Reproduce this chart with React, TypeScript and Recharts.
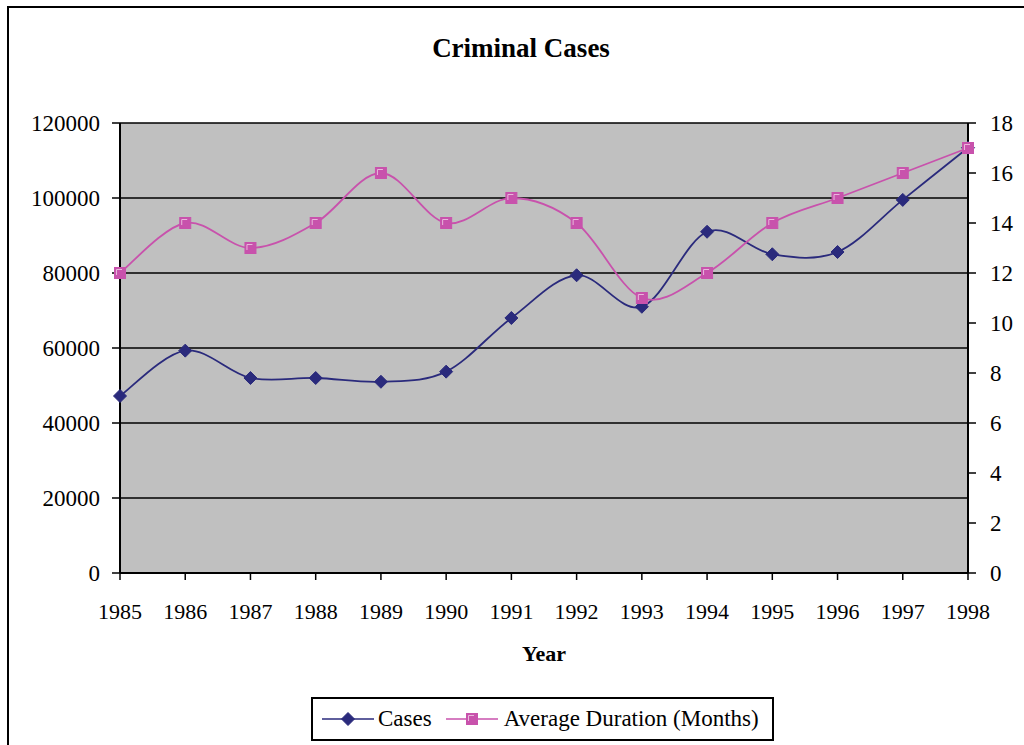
import React from "react";
import {
  LineChart,
  Line,
  XAxis,
  YAxis,
  CartesianGrid,
} from "recharts";

const years = [1985, 1986, 1987, 1988, 1989, 1990, 1991, 1992, 1993, 1994, 1995, 1996, 1997, 1998];
const cases = [47200, 59300, 52000, 52000, 51000, 53700, 68000, 79400, 71000, 91000, 85000, 85600, 99500, 113400];
const duration = [12, 14, 13, 14, 16, 14, 15, 14, 11, 12, 14, 15, 16, 17];

const leftTicks = [0, 20000, 40000, 60000, 80000, 100000, 120000];
const rightTicks = [0, 2, 4, 6, 8, 10, 12, 14, 16, 18];

const data = years.map((year, i) => ({
  year,
  cases: cases[i],
  duration: duration[i],
}));

const NAVY = "#2A2A7C";
const PINK = "#C852AC";
const FONT = '"Liberation Serif", "Times New Roman", serif';

// Excel-like smoothing (uniform Catmull-Rom as cubic Beziers)
const excelSmooth = (context: any) => {
  let pts: [number, number][] = [];
  return {
    areaStart() {},
    areaEnd() {},
    lineStart() {
      pts = [];
    },
    point(x: number, y: number) {
      pts.push([+x, +y]);
    },
    lineEnd() {
      if (!pts.length) return;
      context.moveTo(pts[0][0], pts[0][1]);
      for (let i = 0; i < pts.length - 1; i++) {
        const p0 = pts[i - 1] || pts[i];
        const p1 = pts[i];
        const p2 = pts[i + 1];
        const p3 = pts[i + 2] || p2;
        context.bezierCurveTo(
          p1[0] + (p2[0] - p0[0]) / 6,
          p1[1] + (p2[1] - p0[1]) / 6,
          p2[0] - (p3[0] - p1[0]) / 6,
          p2[1] - (p3[1] - p1[1]) / 6,
          p2[0],
          p2[1]
        );
      }
    },
  };
};

const Diamond = (props: any) => {
  const { cx, cy } = props;
  if (cx == null || cy == null) return null;
  const r = 6.5;
  return (
    <path
      d={`M${cx},${cy - r} L${cx + r},${cy} L${cx},${cy + r} L${cx - r},${cy} Z`}
      fill={NAVY}
      stroke={NAVY}
    />
  );
};

const Square = (props: any) => {
  const { cx, cy } = props;
  if (cx == null || cy == null) return null;
  const s = 5.5;
  return (
    <g>
      <rect x={cx - s} y={cy - s} width={s * 2} height={s * 2} fill={PINK} stroke={PINK} />
      <path
        d={`M${cx - s + 2},${cy + 2} L${cx - s + 2},${cy - s + 2} L${cx + 2},${cy - s + 2}`}
        fill="none"
        stroke="#E8B8DC"
        strokeWidth={1}
      />
    </g>
  );
};

const LegendBox = () => (
  <div
    style={{
      position: "absolute",
      left: 311,
      top: 697,
      width: 463,
      height: 44,
      border: "2px solid #000",
      background: "#fff",
      boxSizing: "border-box",
      display: "flex",
      alignItems: "center",
      fontFamily: FONT,
      fontSize: 23,
      color: "#000",
    }}
  >
    <svg width={56} height={20} style={{ marginLeft: 7 }}>
      <line x1={2} y1={10} x2={54} y2={10} stroke={NAVY} strokeWidth={1.5} />
      <Diamond cx={28} cy={10} />
    </svg>
    <span style={{ marginLeft: 2 }}>Cases</span>
    <svg width={56} height={20} style={{ marginLeft: 12 }}>
      <line x1={2} y1={10} x2={54} y2={10} stroke={PINK} strokeWidth={1.5} />
      <Square cx={28} cy={10} />
    </svg>
    <span style={{ marginLeft: 4, whiteSpace: "nowrap" }}>Average Duration (Months)</span>
  </div>
);

export default function App() {
  return (
    <div
      style={{
        position: "absolute",
        left: 0,
        top: 0,
        width: 1024,
        height: 745,
        background: "#fff",
        overflow: "hidden",
      }}
    >
      <div
        style={{
          position: "absolute",
          left: 7,
          top: 6,
          width: 1100,
          height: 800,
          borderLeft: "2px solid #000",
          borderTop: "2px solid #000",
        }}
      />
      <div
        style={{
          position: "absolute",
          left: 0,
          top: 32,
          width: 1042,
          textAlign: "center",
          fontFamily: FONT,
          fontWeight: "bold",
          fontSize: 27,
          lineHeight: "32px",
          color: "#000",
        }}
      >
        Criminal Cases
      </div>
      <div style={{ position: "absolute", left: 0, top: 0 }}>
        <LineChart
          width={1024}
          height={745}
          data={data}
          margin={{ top: 123, right: 6, bottom: 72, left: 40 }}
        >
          <CartesianGrid
            yAxisId="left"
            vertical={false}
            stroke="#000"
            strokeWidth={1.5}
            fill="#C0C0C0"
            fillOpacity={1}
          />
          <XAxis
            dataKey="year"
            type="number"
            domain={[1985, 1998]}
            ticks={years}
            interval={0}
            height={100}
            axisLine={{ stroke: "#000", strokeWidth: 2 }}
            tickLine={{ stroke: "#000", strokeWidth: 1.5 }}
            tickSize={7}
            tickMargin={23}
            tick={{ fill: "#000", fontSize: 22, fontFamily: FONT }}
            label={{
              value: "Year",
              position: "insideTop",
              offset: 72,
              fill: "#000",
              fontSize: 22,
              fontWeight: "bold",
              fontFamily: FONT,
            }}
          />
          <YAxis
            yAxisId="left"
            width={80}
            domain={[0, 120000]}
            ticks={leftTicks}
            interval={0}
            axisLine={{ stroke: "#000", strokeWidth: 2 }}
            tickLine={{ stroke: "#000", strokeWidth: 1.5 }}
            tickSize={8}
            tickMargin={12}
            tick={{ fill: "#000", fontSize: 23, fontFamily: FONT }}
          />
          <YAxis
            yAxisId="right"
            orientation="right"
            width={50}
            domain={[0, 18]}
            ticks={rightTicks}
            interval={0}
            axisLine={{ stroke: "#000", strokeWidth: 2 }}
            tickLine={{ stroke: "#000", strokeWidth: 1.5 }}
            tickSize={8}
            tickMargin={14}
            tick={{ fill: "#000", fontSize: 23, fontFamily: FONT }}
          />
          <Line
            yAxisId="left"
            type={excelSmooth as any}
            dataKey="cases"
            name="Cases"
            stroke={NAVY}
            strokeWidth={1.8}
            dot={<Diamond />}
            activeDot={false}
            isAnimationActive={false}
          />
          <Line
            yAxisId="right"
            type={excelSmooth as any}
            dataKey="duration"
            name="Average Duration (Months)"
            stroke={PINK}
            strokeWidth={1.8}
            dot={<Square />}
            activeDot={false}
            isAnimationActive={false}
          />
        </LineChart>
      </div>
      <LegendBox />
    </div>
  );
}
